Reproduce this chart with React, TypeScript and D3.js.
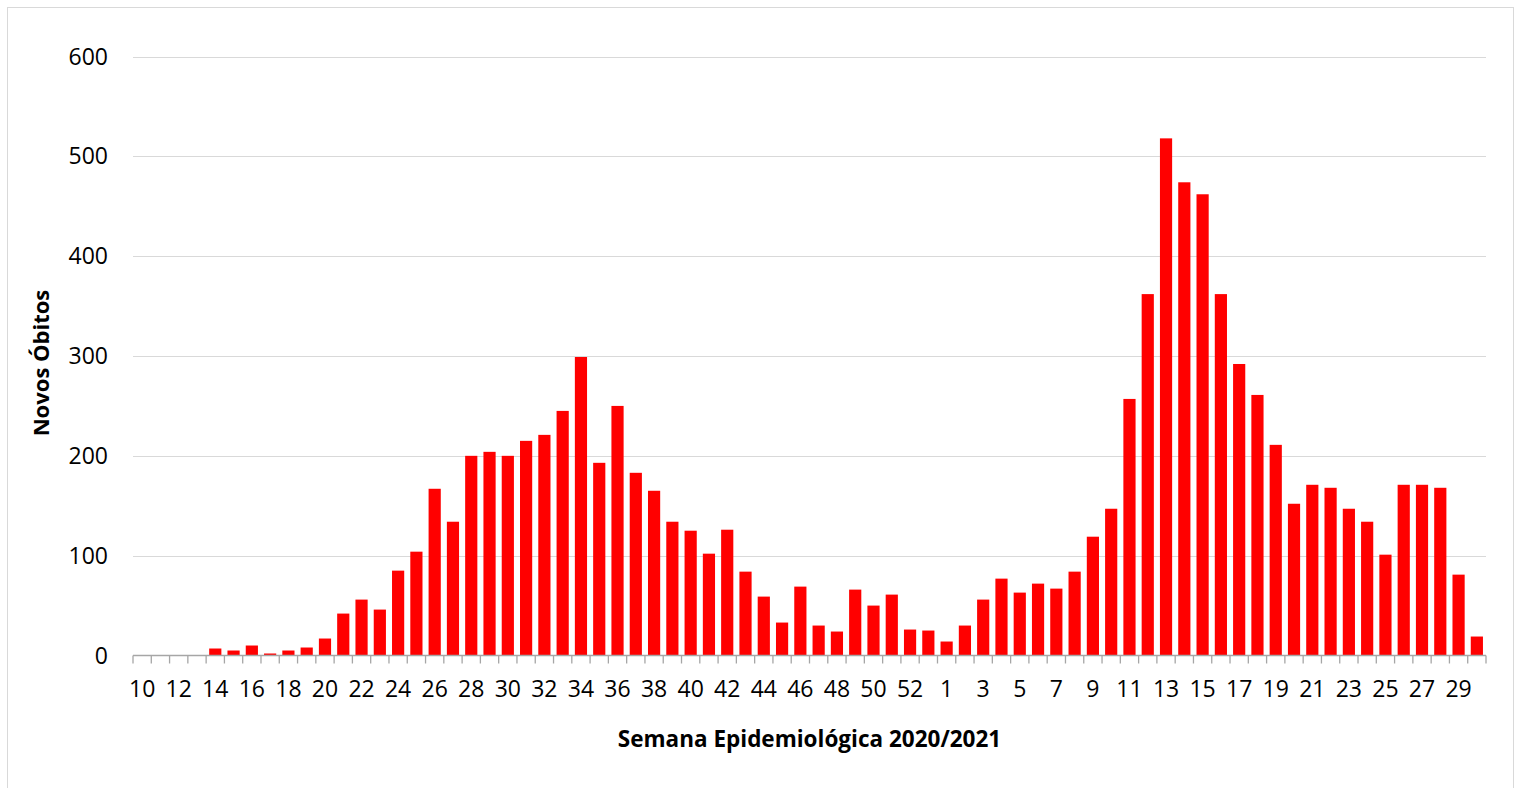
import React, { useEffect, useRef } from 'react';
import * as d3 from 'd3';

// weekly new deaths, epi weeks 10..53 of 2020 and 1..30 of 2021
const weeks2020 = d3.range(10, 54).map(String);
const deaths2020 = [0, 0, 0, 0, 7, 5, 10, 2, 5, 8, 17, 42, 56, 46, 85, 104, 167, 134, 200, 204, 200, 215, 221, 245, 299, 193, 250, 183, 165, 134, 125, 102, 126, 84, 59, 33, 69, 30, 24, 66, 50, 61, 26, 25];
const weeks2021 = d3.range(1, 31).map(String);
const deaths2021 = [14, 30, 56, 77, 63, 72, 67, 84, 119, 147, 257, 362, 518, 474, 462, 362, 292, 261, 211, 152, 171, 168, 147, 134, 101, 171, 171, 168, 81, 19];
const yTicks = [0, 100, 200, 300, 400, 500, 600];

const W = 1517;
const H = 788;

const App = () => {
  const svgRef = useRef(null);

  useEffect(() => {
    const svg = d3.select(svgRef.current);
    svg.selectAll('*').remove();

    // build rows, keys need to be unique since week numbers repeat
    const rows = [
      ...weeks2020.map((w, i) => ({ key: '2020-' + w, label: w, value: deaths2020[i] })),
      ...weeks2021.map((w, i) => ({ key: '2021-' + w, label: w, value: deaths2021[i] })),
    ];

    const left = 133, right = 1486, top = 56.5, bottom = 655.5;

    const x = d3.scaleBand().domain(rows.map(d => d.key)).range([left, right]).paddingInner(1 / 3).paddingOuter(1 / 6);
    const y = d3.scaleLinear().domain([0, 600]).range([bottom, top]);
    const step = x.step();

    // outer frame
    svg.append('rect')
      .attr('x', 7.5).attr('y', 7.5)
      .attr('width', 1506).attr('height', 800)
      .attr('fill', 'white')
      .attr('stroke', '#d9d9d9');

    // gridlines
    svg.append('g')
      .selectAll('line')
      .data(yTicks.filter(t => t > 0))
      .join('line')
      .attr('x1', left).attr('x2', right)
      .attr('y1', d => Math.round(y(d)) + 0.5).attr('y2', d => Math.round(y(d)) + 0.5)
      .attr('stroke', '#d9d9d9')
      .attr('stroke-width', 1.2);

    // y labels
    svg.append('g')
      .selectAll('text')
      .data(yTicks)
      .join('text')
      .text(d => d)
      .attr('x', 108)
      .attr('y', d => y(d))
      .attr('dy', '0.35em')
      .attr('text-anchor', 'end')
      .attr('font-family', 'Open Sans')
      .attr('font-size', '23px')
      .attr('fill', '#000');

    // bars
    svg.append('g')
      .selectAll('rect')
      .data(rows)
      .join('rect')
      .attr('x', d => x(d.key))
      .attr('y', d => y(d.value))
      .attr('width', x.bandwidth())
      .attr('height', d => y(0) - y(d.value))
      .attr('fill', '#ff0000');

    // x axis line + ticks between categories
    const axis = svg.append('g').attr('stroke', '#a6a6a6').attr('stroke-width', 1.3);
    axis.append('line')
      .attr('x1', left).attr('x2', right)
      .attr('y1', bottom).attr('y2', bottom);
    axis.selectAll('line.tick')
      .data(d3.range(rows.length + 1))
      .join('line')
      .attr('class', 'tick')
      .attr('x1', i => left + i * step).attr('x2', i => left + i * step)
      .attr('y1', bottom).attr('y2', bottom + 8);

    // every other week label
    svg.append('g')
      .selectAll('text')
      .data(rows.filter((d, i) => i % 2 === 0))
      .join('text')
      .text(d => d.label)
      .attr('x', d => x(d.key) + x.bandwidth() / 2)
      .attr('y', 697)
      .attr('text-anchor', 'middle')
      .attr('font-family', 'Open Sans')
      .attr('font-size', '23px')
      .attr('fill', '#000');

    // axis titles
    svg.append('text')
      .text('Semana Epidemiológica 2020/2021')
      .attr('x', (left + right) / 2)
      .attr('y', 747)
      .attr('text-anchor', 'middle')
      .attr('font-family', 'Open Sans')
      .attr('font-weight', 'bold')
      .attr('font-size', '22.5px');

    svg.append('text')
      .text('Novos Óbitos')
      .attr('transform', 'translate(41,363) rotate(-90)')
      .attr('dy', '0.35em')
      .attr('text-anchor', 'middle')
      .attr('font-family', 'Open Sans')
      .attr('font-weight', 'bold')
      .attr('font-size', '22px');
  }, []);

  return (
    <div style={{ position: 'absolute', left: 0, top: 0 }}>
      <svg width={W} height={H} ref={svgRef} style={{ display: 'block' }}></svg>
    </div>
  );
};

export default App;
